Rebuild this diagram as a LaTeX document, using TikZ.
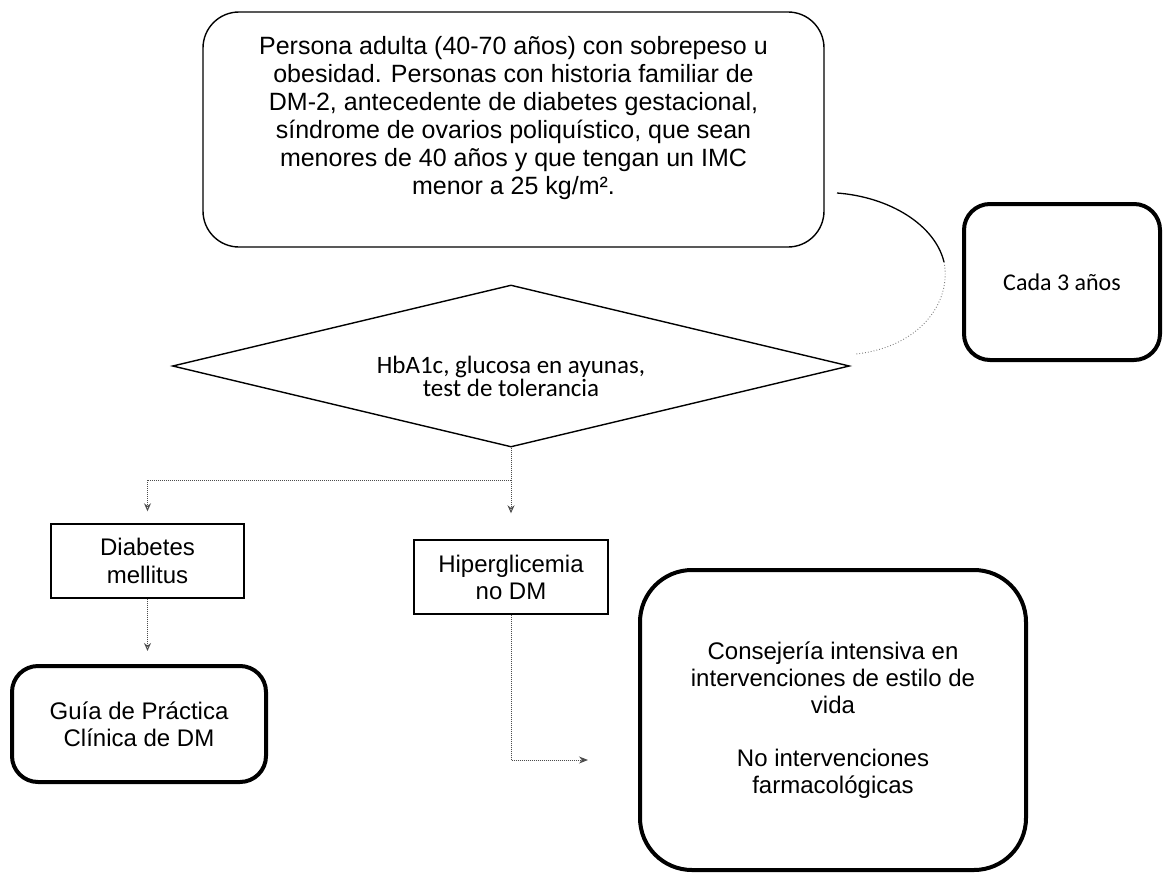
\documentclass[tikz,border=0pt]{standalone}
\usepackage{fontspec}
\setmainfont{Liberation Sans}
\newfontfamily\calibri{Carlito}
\usetikzlibrary{shapes.geometric,arrows.meta}
\tikzset{
  thinbox/.style={draw, line width=1.4pt, rounded corners=36pt, align=center, inner sep=0pt},
  boldbox/.style={draw, line width=4pt, align=center, inner sep=0pt},
  plainbox/.style={draw, line width=1.4pt, align=center, inner sep=0pt},
  flow/.style={gray!60!black, line width=1pt, densely dotted},
  openhead/.style={-{Stealth[open,length=8pt,width=7pt]}},
  fullhead/.style={-{Stealth[length=9pt,width=7pt]}},
}
\begin{document}
\begin{tikzpicture}[x=1pt,y=-1pt]
\useasboundingbox (0,0) rectangle (1164,875);

% entry criteria
\node[thinbox, minimum width=621pt, minimum height=235pt,
      font=\fontsize{25}{28}\selectfont] (pop) at (513.5,129.5)
  {Persona adulta (40-70 años) con sobrepeso u\\
   obesidad. Personas con historia familiar de\\
   DM-2, antecedente de diabetes gestacional,\\
   síndrome de ovarios poliquístico, que sean\\
   menores de 40 años y que tengan un IMC\\
   menor a 25 kg/m².\\[0pt]\mbox{}};

% screening interval
\node[boldbox, rounded corners=26pt, minimum width=196pt, minimum height=156pt,
      font=\calibri\fontsize{24}{28}\selectfont] (freq) at (1062,282) {Cada 3 años};

% screening tests
\node[diamond, shape aspect=4.16, draw, line width=1.4pt, inner sep=0pt,
      minimum width=677pt, minimum height=162pt] (test) at (511,366) {};
\node[align=center, inner sep=0pt, font=\calibri\fontsize{25}{23}\selectfont]
  (testtxt) at (511,376) {HbA1c, glucosa en ayunas,\\test de tolerancia};

% results
\node[plainbox, minimum width=193pt, minimum height=74pt,
      font=\fontsize{24}{28}\selectfont] (dm) at (147.5,561) {Diabetes\\mellitus};
\node[plainbox, minimum width=194pt, minimum height=74pt,
      font=\fontsize{24}{27}\selectfont] (hyp) at (511,577) {Hiperglicemia\\no DM};

% management
\node[boldbox, rounded corners=26pt, minimum width=254pt, minimum height=116pt,
      font=\fontsize{24}{27}\selectfont] (gpc) at (139,724)
  {Guía de Práctica\\Clínica de DM};
\node[boldbox, rounded corners=52pt, minimum width=386pt, minimum height=300pt,
      font=\fontsize{24}{27}\selectfont] (life) at (833,720)
  {Consejería intensiva en\\intervenciones de estilo de\\vida\\[26pt]
   No intervenciones\\farmacológicas};

% repeat loop back to the tests
\coordinate (ls) at (837,193);
\coordinate (lm) at (944,262);
\coordinate (le) at (856,354);
\draw[line width=1.3pt] (ls) .. controls (890,197) and (935,225) .. (lm);
\draw[gray, line width=0.9pt, dotted] (lm) .. controls (952,302) and (920,347) .. (le);

% branches
\coordinate (split) at (511,480);
\coordinate (left) at (147.5,480);
\draw[flow] (test.south) -- (split);
\draw[flow] (split) -- (left);
\draw[flow, openhead, shorten >=12pt] (left) -- (dm.north);
\draw[flow, openhead, shorten >=26pt] (split) -- (hyp.north);
\draw[flow, openhead, shorten >=13pt] (dm.south) -- (dm.south |- gpc.north);

\coordinate (corner) at (511,760);
\coordinate (tip) at (588,760);
\draw[flow, fullhead] (hyp.south) -- (corner) -- (tip);
\end{tikzpicture}
\end{document}
